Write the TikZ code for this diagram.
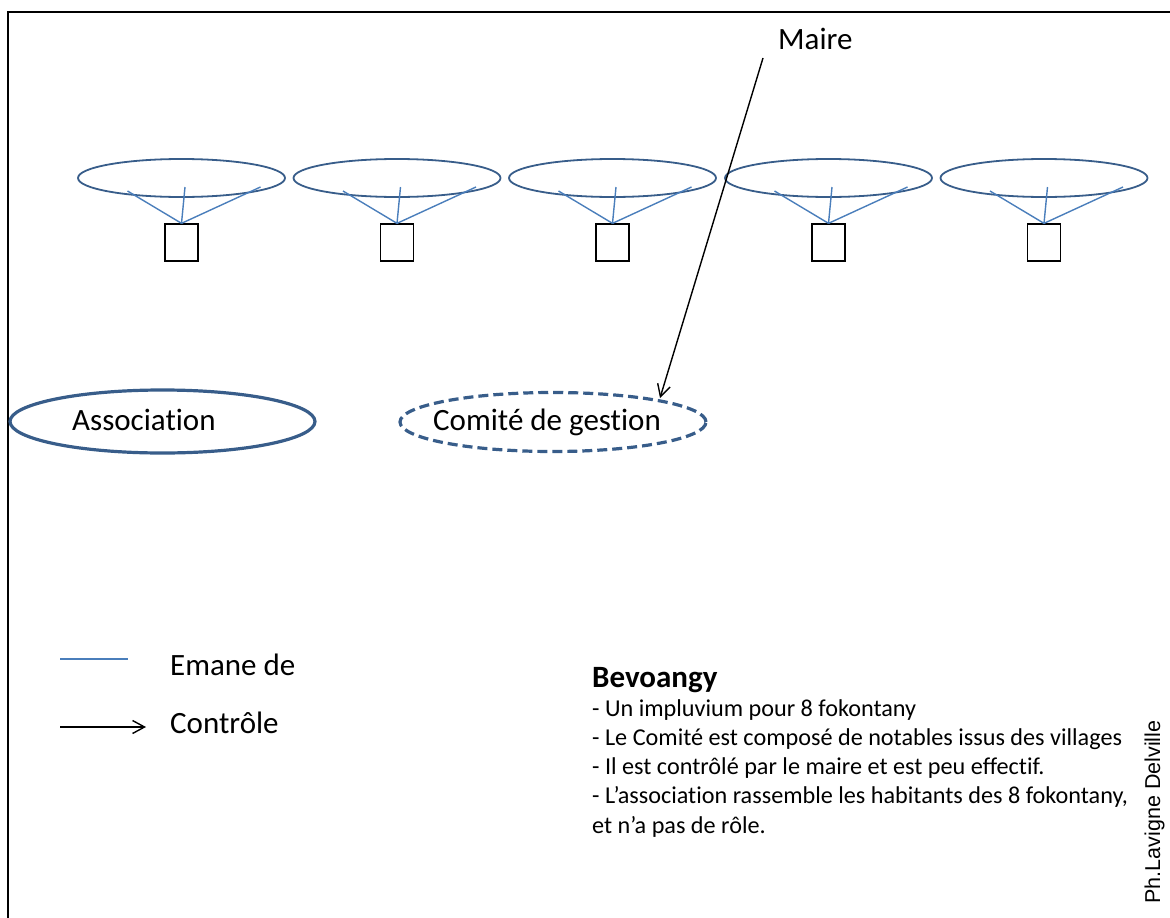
\documentclass[tikz,border=0pt]{standalone}
\usepackage{fontspec}
\setmainfont{Carlito}[Ligatures=NoCommon]
\newfontfamily\credfont{Liberation Sans}
\usetikzlibrary{shapes.geometric,calc,arrows.meta}
\definecolor{rimblue}{RGB}{56,93,138}
\definecolor{linkblue}{RGB}{74,126,187}
\begin{document}
\begin{tikzpicture}[x=1pt,y=-1pt,
  frame/.style={line width=2.5pt,black},
  village/.style={ellipse,draw=rimblue,line width=1.8pt,minimum width=207pt,minimum height=38pt,inner sep=0pt},
  hut/.style={rectangle,draw=black,line width=1.3pt,minimum width=33pt,minimum height=37pt,inner sep=0pt},
  emane/.style={linkblue,line width=1.4pt},
  ctrl/.style={black,line width=1.4pt,-{Straight Barb[length=12pt,width=13pt]}},
  bigoval/.style={ellipse,draw=rimblue,line width=3.2pt,inner sep=0pt},
  lbl/.style={font=\fontsize{31}{36}\selectfont,inner sep=0pt,anchor=base west},
  body/.style={font=\fontsize{24.2}{29.3}\selectfont,inner sep=0pt,anchor=base west,align=left}
]
\useasboundingbox (0,0) rectangle (1170,918);
% open frame: top and left edges
\coordinate (ftl) at (8,12);
\coordinate (ftr) at (1170,12);
\coordinate (fbl) at (8,918);
\draw[frame] (ftr) -- (ftl) -- (fbl);

% five villages, each with its unit below
\foreach \i/\cx in {1/181.5,2/397,3/612.5,4/828.5,5/1044}{
  \node[village] (v\i) at (\cx,178) {};
  \node[hut] (h\i) at (\cx,242.5) {};
  \coordinate (vl\i) at ($(v\i.center)+(-54,13)$);
  \coordinate (vm\i) at ($(v\i.center)+(3.5,9)$);
  \coordinate (vr\i) at ($(v\i.center)+(79,9)$);
  \draw[emane] (h\i.north) -- (vl\i);
  \draw[emane] (h\i.north) -- (vm\i);
  \draw[emane] (h\i.north) -- (vr\i);
}

% bodies
\node[bigoval,minimum width=305pt,minimum height=63pt] (assoc) at (162.5,421.5) {};
\node[lbl] (assoclbl) at (72,430) {Association};
\node[bigoval,dashed,dash pattern=on 10pt off 5pt,minimum width=306pt,minimum height=59pt] (comite) at (553,422) {};
\node[lbl] (comitelbl) at (433,430) {Comité de gestion};

% mayor and control arrow
\node[lbl] (maire) at (778,49) {Maire};
\coordinate (mtail) at (763,58);
\coordinate (ctip) at ($(comite.center)+(107,-24)$);
\draw[ctrl] (mtail) -- (ctip);

% legend
\coordinate (le1) at (60,659);
\coordinate (le2) at (128,659);
\draw[emane] (le1) -- (le2);
\node[lbl] (lemane) at (170,675) {Emane de};
\coordinate (lc1) at (60,727);
\coordinate (lc2) at (146,727);
\draw[ctrl] (lc1) -- (lc2);
\node[lbl] (lctrl) at (170,733) {Contrôle};

% notes (node baseline is that of the last line)
\node[lbl,font=\fontsize{31}{36}\selectfont\bfseries] (title) at (592,687) {Bevoangy};
\node[body] (notes) at (592,833.2) {- Un impluvium pour 8 fokontany\\
- Le Comité est composé de notables issus des villages\\
- Il est contrôlé par le maire et est peu effectif.\\
- L’association rassemble les habitants des 8 fokontany,\\
et n’a pas de rôle.};

% credit
\node[font=\credfont\fontsize{21.5}{24}\selectfont,rotate=90,inner sep=0pt,anchor=base] (credit) at (1160,812) {Ph.Lavigne Delville};
\end{tikzpicture}
\end{document}
